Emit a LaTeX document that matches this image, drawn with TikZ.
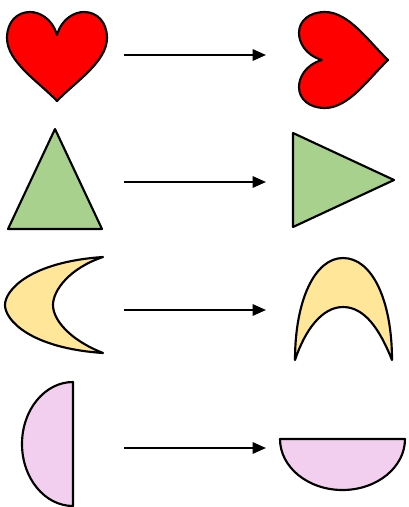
\documentclass[tikz,border=0pt]{standalone}
\usetikzlibrary{arrows.meta}
\definecolor{heartred}{HTML}{FF0000}
\definecolor{trigreen}{HTML}{A9D18E}
\definecolor{moonyellow}{HTML}{FFE699}
\definecolor{halfpink}{HTML}{F2CFEE}
\tikzset{
  shapeline/.style={draw=black, line width=1.6pt, line join=round},
  arrowline/.style={draw=black, line width=1.5pt, -{Triangle[length=10pt,width=8.5pt]}}
}
\begin{document}
\begin{tikzpicture}[x=0.75pt,y=-0.75pt]
\useasboundingbox (0,0) rectangle (408,507);
% hearts
\path[shapeline, fill=heartred] (57,101) .. controls (39,82) and (7,62) .. (7,38)
  .. controls (7,22) and (17,12) .. (30,12) .. controls (39,12) and (52,18) .. (57,35)
  .. controls (62,18) and (75,12) .. (84,12) .. controls (97,12) and (107,22) .. (107,38)
  .. controls (107,62) and (75,82) .. (57,101) -- cycle;
\path[shapeline, fill=heartred] (388,60) .. controls (369,78) and (349,108) .. (325,108)
  .. controls (309,108) and (299,99) .. (299,87) .. controls (299,78) and (305,65) .. (322,60)
  .. controls (305,55) and (299,42) .. (299,33) .. controls (299,21) and (309,12) .. (325,12)
  .. controls (349,12) and (369,42) .. (388,60) -- cycle;
% triangles
\path[shapeline, fill=trigreen] (55,129) -- (102,229) -- (8,229) -- cycle;
\path[shapeline, fill=trigreen] (293,133) -- (394,180) -- (293,227) -- cycle;
% moons
\path[shapeline, fill=moonyellow] (103,257) .. controls (30,262) and (5,290) .. (5,305)
  .. controls (5,320) and (30,348) .. (103,353)
  .. controls (70,340) and (53,320) .. (53,305)
  .. controls (53,290) and (70,268) .. (103,257) -- cycle;
\path[shapeline, fill=moonyellow] (295,360) .. controls (295,300) and (315,258) .. (343,258)
  .. controls (372,258) and (392,300) .. (392,360)
  .. controls (380,330) and (365,307) .. (343,307)
  .. controls (322,307) and (305,330) .. (295,360) -- cycle;
% half discs
\path[shapeline, fill=halfpink] (73,382) arc[start angle=-90, end angle=-270, x radius=51, y radius=62] -- cycle;
\path[shapeline, fill=halfpink] (280,439) arc[start angle=180, end angle=0, x radius=62.5, y radius=51] -- cycle;
% arrows
\coordinate (s1) at (124,55);  \coordinate (e1) at (266,55);
\coordinate (s2) at (124,182); \coordinate (e2) at (266,182);
\coordinate (s3) at (124,310); \coordinate (e3) at (266,310);
\coordinate (s4) at (124,448); \coordinate (e4) at (266,448);
\draw[arrowline] (s1) -- (e1);
\draw[arrowline] (s2) -- (e2);
\draw[arrowline] (s3) -- (e3);
\draw[arrowline] (s4) -- (e4);
\end{tikzpicture}
\end{document}
